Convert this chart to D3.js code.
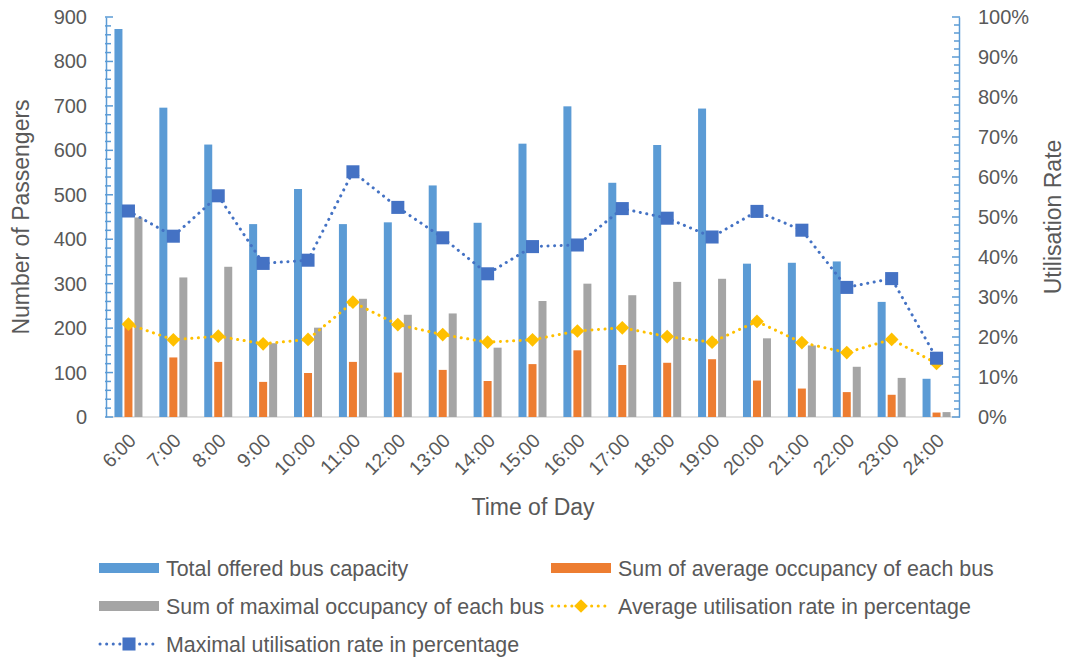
<!DOCTYPE html>
<html>
<head>
<meta charset="utf-8">
<script src="https://cdn.jsdelivr.net/npm/d3@7"></script>
<style>
  html, body { margin: 0; padding: 0; background: #fff; }
  svg { display: block; font-family: "Liberation Sans", Arial, sans-serif; }
</style>
</head>
<body>
<svg id="chart" width="1067" height="658"></svg>
<script>
// Hourly bus capacity, occupancy and utilisation
const hours = ["6:00","7:00","8:00","9:00","10:00","11:00","12:00","13:00","14:00","15:00",
               "16:00","17:00","18:00","19:00","20:00","21:00","22:00","23:00","24:00"];
const totalCapacity = [873, 696, 613, 434, 513, 434, 438, 521, 437, 615, 699, 527, 612, 694, 345, 347, 350, 259, 86];
const avgOccupancy  = [206, 134, 124, 79, 99, 124, 100, 106, 81, 119, 150, 117, 122, 130, 82, 64, 56, 50, 10];
const maxOccupancy  = [449, 314, 338, 166, 201, 266, 230, 233, 156, 261, 300, 274, 304, 311, 177, 161, 113, 88, 11];
const avgUtilRate   = [23.2, 19.3, 20.2, 18.3, 19.4, 28.7, 23.1, 20.6, 18.7, 19.3, 21.5, 22.3, 20.1, 18.7, 23.9, 18.6, 16.1, 19.4, 13.4];
const maxUtilRate   = [51.5, 45.2, 55.3, 38.4, 39.2, 61.3, 52.4, 44.8, 35.8, 42.6, 43.0, 52.1, 49.7, 45.0, 51.4, 46.7, 32.4, 34.6, 14.7];
const leftTicks  = [0, 100, 200, 300, 400, 500, 600, 700, 800, 900];
const rightTicks = [0, 10, 20, 30, 40, 50, 60, 70, 80, 90, 100];

const barSeries = [
  { name: "Total offered bus capacity", values: totalCapacity, color: "#5B9BD5" },
  { name: "Sum of average occupancy of each bus", values: avgOccupancy, color: "#ED7D31" },
  { name: "Sum of maximal occupancy of each bus", values: maxOccupancy, color: "#A5A5A5" }
];
const lineSeries = [
  { name: "Average utilisation rate in percentage", values: avgUtilRate, color: "#FFC000", marker: "diamond" },
  { name: "Maximal utilisation rate in percentage", values: maxUtilRate, color: "#4472C4", marker: "square" }
];

const textColor = "#595959";
const axisColor = "#5B9BD5";
const plot = { left: 106, right: 959, top: 17, bottom: 417 };

const svg = d3.select("#chart");

const x0 = d3.scaleBand().domain(hours).range([plot.left, plot.right]).padding(0);
const bw = x0.bandwidth();
const x1 = d3.scaleBand().domain(barSeries.map(s => s.name))
  .range([bw / 2 - 14, bw / 2 + 14]).paddingInner(0.2).paddingOuter(0);
const yL = d3.scaleLinear().domain([0, 900]).range([plot.bottom, plot.top]);
const yR = d3.scaleLinear().domain([0, 100]).range([plot.bottom, plot.top]);

// category baseline
svg.append("line")
  .attr("x1", plot.left).attr("x2", plot.right)
  .attr("y1", plot.bottom).attr("y2", plot.bottom)
  .attr("stroke", "#D9D9D9").attr("stroke-width", 1.5);

// bars
const groups = svg.append("g").selectAll("g").data(hours).join("g")
  .attr("transform", d => `translate(${x0(d)},0)`);
barSeries.forEach(s => {
  groups.append("rect")
    .attr("x", x1(s.name))
    .attr("width", x1.bandwidth())
    .attr("y", (d, i) => yL(s.values[i]))
    .attr("height", (d, i) => plot.bottom - yL(s.values[i]))
    .attr("fill", s.color);
});

// left axis
const leftAxis = svg.append("g").attr("transform", `translate(${plot.left},0)`);
leftAxis.call(d3.axisLeft(yL).tickValues([]).tickSize(0));
leftAxis.select(".domain").attr("stroke", axisColor).attr("stroke-width", 1.5);
leftAxis.selectAll(".minor").data(d3.range(0, 901, 20)).join("line")
  .attr("x1", -1).attr("x2", d => d % 100 === 0 ? 7 : 5)
  .attr("y1", d => yL(d)).attr("y2", d => yL(d))
  .attr("stroke", axisColor).attr("stroke-width", 1.5);
svg.append("g").selectAll("text").data(leftTicks).join("text")
  .attr("x", 87).attr("y", d => yL(d)).attr("dy", "0.35em")
  .attr("text-anchor", "end").attr("font-size", 20).attr("fill", textColor)
  .text(d => d);

// right axis
const rightAxis = svg.append("g").attr("transform", `translate(${plot.right},0)`);
rightAxis.call(d3.axisRight(yR).tickValues([]).tickSize(0));
rightAxis.select(".domain").attr("stroke", axisColor).attr("stroke-width", 1.5);
rightAxis.selectAll(".minor").data(d3.range(0, 101, 2)).join("line")
  .attr("x1", d => d % 10 === 0 ? -7 : -5).attr("x2", 1)
  .attr("y1", d => yR(d)).attr("y2", d => yR(d))
  .attr("stroke", axisColor).attr("stroke-width", 1.5);
svg.append("g").selectAll("text").data(rightTicks).join("text")
  .attr("x", 978).attr("y", d => yR(d)).attr("dy", "0.35em")
  .attr("text-anchor", "start").attr("font-size", 20).attr("fill", textColor)
  .text(d => d + "%");

// category labels
svg.append("g").selectAll("text").data(hours).join("text")
  .attr("transform", d => `translate(${x0(d) + bw / 2 + 4},${plot.bottom + 20}) rotate(-45)`)
  .attr("text-anchor", "end").attr("dy", "0.35em")
  .attr("font-size", 19.5).attr("fill", textColor)
  .text(d => d);

// axis titles
svg.append("text")
  .attr("transform", `translate(29,${(plot.top + plot.bottom) / 2}) rotate(-90)`)
  .attr("text-anchor", "middle").attr("font-size", 23).attr("fill", textColor)
  .text("Number of Passengers");
svg.append("text")
  .attr("transform", `translate(1061,${(plot.top + plot.bottom) / 2}) rotate(-90)`)
  .attr("text-anchor", "middle").attr("font-size", 23).attr("fill", textColor)
  .text("Utilisation Rate");
svg.append("text")
  .attr("x", 533).attr("y", 515)
  .attr("text-anchor", "middle").attr("font-size", 23).attr("fill", textColor)
  .text("Time of Day");

// marker shapes
const markerPath = {
  diamond: d3.symbol().type(d3.symbolDiamond2).size(120)(),
  square: d3.symbol().type(d3.symbolSquare).size(170)()
};

// utilisation lines
const lineGen = vals => d3.line()
  .x((d, i) => x0(hours[i]) + bw / 2)
  .y(d => yR(d))(vals);
lineSeries.forEach(s => {
  svg.append("path")
    .attr("d", lineGen(s.values))
    .attr("fill", "none").attr("stroke", s.color)
    .attr("stroke-width", 3).attr("stroke-linecap", "round")
    .attr("stroke-dasharray", "0.1 6.5");
  svg.append("g").selectAll("path").data(s.values).join("path")
    .attr("transform", (d, i) => `translate(${x0(hours[i]) + bw / 2},${yR(d)})`)
    .attr("d", markerPath[s.marker])
    .attr("fill", s.color);
});

// legend
const legendItems = [
  { s: barSeries[0], type: "bar", x: 99, y: 568 },
  { s: barSeries[1], type: "bar", x: 551, y: 568 },
  { s: barSeries[2], type: "bar", x: 99, y: 606 },
  { s: lineSeries[0], type: "line", x: 551, y: 606 },
  { s: lineSeries[1], type: "line", x: 99, y: 644 }
];
const legend = svg.append("g");
legendItems.forEach(item => {
  const g = legend.append("g").attr("transform", `translate(${item.x},${item.y})`);
  if (item.type === "bar") {
    g.append("rect").attr("x", 0).attr("y", -5).attr("width", 60).attr("height", 10)
      .attr("fill", item.s.color);
  } else {
    g.append("line").attr("x1", 1).attr("x2", 60).attr("y1", 0).attr("y2", 0)
      .attr("stroke", item.s.color).attr("stroke-width", 3)
      .attr("stroke-linecap", "round").attr("stroke-dasharray", "0.1 6.5");
    g.append("path").attr("transform", "translate(30,0)")
      .attr("d", markerPath[item.s.marker]).attr("fill", item.s.color);
  }
  g.append("text").attr("x", 67).attr("y", 0).attr("dy", "0.35em")
    .attr("font-size", 21.4).attr("fill", textColor).text(item.s.name);
});
</script>
</body>
</html>
